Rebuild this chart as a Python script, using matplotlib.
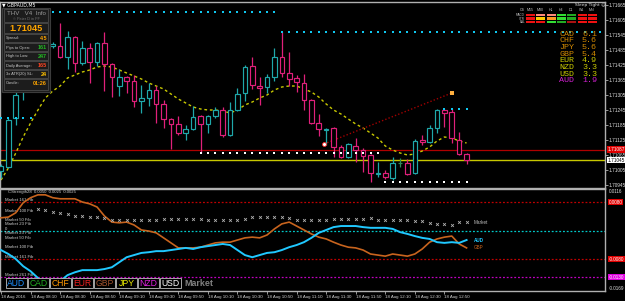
import matplotlib
matplotlib.use("Agg")
import matplotlib.pyplot as plt
import matplotlib.transforms as mtransforms
from matplotlib.patches import Rectangle
import numpy as np

W, H = 625, 301

# GBPAUD M5, 18 Aug 2016, bars from 07:50 to 13:05
opens = [1.71001, 1.71017, 1.71213, 1.71325, 1.71405, 1.71465, 1.71505, 1.71503, 1.71501, 1.71457,
         1.71537, 1.71433, 1.71493, 1.71437, 1.71513, 1.71429, 1.71341, 1.71377, 1.71361, 1.71281,
         1.71293, 1.71325, 1.71269, 1.71209, 1.71189, 1.71153, 1.71169, 1.71221, 1.71189, 1.71221,
         1.71245, 1.71145, 1.71245, 1.71313, 1.71421, 1.71341, 1.71337, 1.71377, 1.71457, 1.71393,
         1.71373, 1.71353, 1.71285, 1.71193, 1.71165, 1.71173, 1.71097, 1.71057, 1.71101, 1.71085,
         1.71065, 1.70989, 1.70993, 1.70973, 1.71033, 1.71033, 1.70993, 1.71123, 1.71117, 1.71173,
         1.71245, 1.71237, 1.71125, 1.71069]
highs = [1.71029, 1.71213, 1.71325, 1.71425, 1.71485, 1.71533, 1.71525, 1.71517, 1.71593, 1.71561,
         1.71541, 1.71521, 1.71513, 1.71517, 1.71557, 1.71433, 1.71409, 1.71381, 1.71385, 1.71345,
         1.71353, 1.71341, 1.71285, 1.71213, 1.71221, 1.71185, 1.71261, 1.71225, 1.71225, 1.71257,
         1.71257, 1.71277, 1.71333, 1.71425, 1.71457, 1.71377, 1.71389, 1.71493, 1.71557, 1.71477,
         1.71385, 1.71389, 1.71289, 1.71229, 1.71173, 1.71177, 1.71105, 1.71113, 1.71133, 1.71093,
         1.71069, 1.71037, 1.71005, 1.71057, 1.71053, 1.71049, 1.71129, 1.71145, 1.71185, 1.71249,
         1.71249, 1.71249, 1.71157, 1.71073]
lows = [1.70973, 1.71013, 1.71185, 1.71285, 1.71385, 1.71445, 1.71465, 1.71493, 1.71453, 1.71409,
        1.71397, 1.71425, 1.71353, 1.71421, 1.71321, 1.71297, 1.71301, 1.71313, 1.71257, 1.71233,
        1.71261, 1.71193, 1.71173, 1.71089, 1.71145, 1.71125, 1.71165, 1.71073, 1.71153, 1.71213,
        1.71137, 1.71141, 1.71241, 1.71281, 1.71329, 1.71265, 1.71313, 1.71361, 1.71377, 1.71341,
        1.71317, 1.71245, 1.71189, 1.71141, 1.71105, 1.71057, 1.71053, 1.71053, 1.71037, 1.70997,
        1.70957, 1.70977, 1.70969, 1.70965, 1.71017, 1.70985, 1.70989, 1.71105, 1.71113, 1.71153,
        1.71177, 1.71113, 1.71065, 1.71029]
closes = [1.71021, 1.71205, 1.71305, 1.71405, 1.71465, 1.71505, 1.71485, 1.71507, 1.71457, 1.71537,
          1.71433, 1.71493, 1.71437, 1.71513, 1.71429, 1.71377, 1.71377, 1.71361, 1.71281, 1.71293,
          1.71325, 1.71269, 1.71209, 1.71189, 1.71153, 1.71169, 1.71217, 1.71189, 1.71221, 1.71245,
          1.71145, 1.71245, 1.71309, 1.71417, 1.71345, 1.71333, 1.71377, 1.71457, 1.71393, 1.71369,
          1.71357, 1.71285, 1.71193, 1.71169, 1.71169, 1.71097, 1.71057, 1.71109, 1.71085, 1.71061,
          1.70993, 1.70993, 1.70977, 1.71033, 1.71033, 1.70989, 1.71121, 1.71119, 1.71173, 1.71245,
          1.71233, 1.71133, 1.71069, 1.71045]
ma_values = [1.70965, 1.71013, 1.71073, 1.71137, 1.71193, 1.71245, 1.71293, 1.71321, 1.71341, 1.71373,
             1.71385, 1.71397, 1.71405, 1.71417, 1.71421, 1.71417, 1.71405, 1.71393, 1.71381, 1.71369,
             1.71353, 1.71341, 1.71329, 1.71309, 1.71289, 1.71273, 1.71257, 1.71249, 1.71245, 1.71245,
             1.71241, 1.71233, 1.71245, 1.71265, 1.71277, 1.71293, 1.71305, 1.71325, 1.71337, 1.71341,
             1.71341, 1.71329, 1.71317, 1.71297, 1.71269, 1.71245, 1.71229, 1.71209, 1.71189, 1.71173,
             1.71153, 1.71133, 1.71101, 1.71085, 1.71073, 1.71065, 1.71069, 1.71081, 1.71097, 1.71121,
             1.71137, 1.71133, 1.71121, 1.71113]

# support / resistance dot rows: (price, first bar, last bar)
resistance_rows = [(1.71637, 7, 37), (1.71557, 38, 81), (1.71213, 0, 4), (1.71251, 60, 63)]
support_rows = [(1.71075, 27, 51), (1.70957, 52, 63)]
trend_line = [(43.7, 1.71109), (61.0, 1.71313)]
red_level = 1.71087
bid_price = 1.71045
price_ticks = [1.70945, 1.71005, 1.71065, 1.71125, 1.71185, 1.71245, 1.71305,
               1.71365, 1.71425, 1.71485, 1.71545, 1.71605, 1.71665]

time_bars = [0, 4, 8, 12, 16, 20, 24, 28, 32, 36, 40, 44, 48, 52, 56, 60]
time_labels = ["18 Aug 2016", "18 Aug 08:10", "18 Aug 08:30", "18 Aug 08:50", "18 Aug 09:10",
               "18 Aug 09:30", "18 Aug 09:50", "18 Aug 10:10", "18 Aug 10:30", "18 Aug 10:50",
               "18 Aug 11:10", "18 Aug 11:30", "18 Aug 11:50", "18 Aug 12:10", "18 Aug 12:30",
               "18 Aug 12:50"]

# CStrength28 window
gbp_strength = [0.0036, 0.0038, 0.0050, 0.0078, 0.0092, 0.0100, 0.0100, 0.0092, 0.0089, 0.0089,
                0.0089, 0.0080, 0.0075, 0.0066, 0.0041, 0.0024, 0.0022, 0.0024, 0.0016, 0.0002,
                -0.0001, -0.0006, -0.0020, -0.0034, -0.0048, -0.0048, -0.0048, -0.0046, -0.0040, -0.0034,
                -0.0032, -0.0032, -0.0026, -0.0020, -0.0018, -0.0020, -0.0012, 0.0005, 0.0019, 0.0024,
                0.0013, 0.0002, -0.0009, -0.0018, -0.0023, -0.0032, -0.0040, -0.0046, -0.0048, -0.0054,
                -0.0065, -0.0068, -0.0071, -0.0065, -0.0068, -0.0071, -0.0065, -0.0051, -0.0032, -0.0023,
                -0.0018, -0.0015, -0.0037, -0.0048]
aud_strength = [-0.0054, -0.0065, -0.0079, -0.0099, -0.0113, -0.0132, -0.0149, -0.0157, -0.0141, -0.0124,
                -0.0116, -0.0110, -0.0110, -0.0110, -0.0107, -0.0102, -0.0088, -0.0074, -0.0068, -0.0062,
                -0.0060, -0.0057, -0.0057, -0.0054, -0.0051, -0.0048, -0.0051, -0.0046, -0.0043, -0.0040,
                -0.0037, -0.0040, -0.0054, -0.0068, -0.0074, -0.0068, -0.0062, -0.0060, -0.0054, -0.0046,
                -0.0040, -0.0032, -0.0020, -0.0006, 0.0002, 0.0010, 0.0013, 0.0013, 0.0013, 0.0010,
                0.0008, 0.0008, 0.0008, 0.0005, -0.0004, -0.0009, -0.0015, -0.0020, -0.0023, -0.0032,
                -0.0034, -0.0032, -0.0034, -0.0026]
market_first_bar = 5
market_strength = [0.0061, 0.0058, 0.0052, 0.0050, 0.0047, 0.0041, 0.0041, 0.0038, 0.0038, 0.0036,
                   0.0030, 0.0030, 0.0030, 0.0030, 0.0030, 0.0030, 0.0030, 0.0033, 0.0033, 0.0033,
                   0.0033, 0.0033, 0.0033, 0.0030, 0.0030, 0.0030, 0.0030, 0.0030, 0.0033, 0.0038,
                   0.0038, 0.0038, 0.0038, 0.0038, 0.0036, 0.0030, 0.0030, 0.0030, 0.0030, 0.0030,
                   0.0033, 0.0033, 0.0033, 0.0033, 0.0033, 0.0036, 0.0030, 0.0030, 0.0030, 0.0030,
                   0.0030, 0.0027, 0.0027, 0.0022, 0.0019, 0.0019, 0.0016, 0.0024, 0.0024]
fib_names = ["161", "100", "50", "23", "0", "23", "50", "100", "161", "261"]
fib_levels = [0.0080, 0.0050, 0.0025, 0.00118, 0.0, -0.00118, -0.0025, -0.0050, -0.0080, -0.0130]
fib_lines = {0.0080: '#c00000', 0.0: '#00c8c8', -0.0080: '#c00000', -0.0130: '#c000c0'}
strength_top, strength_bottom = 0.0116, -0.0169

currencies = ["CAD", "CHF", "JPY", "GBP", "EUR", "NZD", "USD", "AUD"]
currency_scores = [6.1, 5.6, 5.6, 5.4, 4.9, 3.3, 3.3, 1.9]
currency_colors = ['#d08800', '#d08800', '#d08800', '#d08800', '#c8c800', '#c8c800', '#c8c800', '#d020d0']
strip_names = ["AUD", "CAD", "CHF", "EUR", "GBP", "JPY", "NZD", "USD"]
strip_colors = ['#1e90ff', '#22aa22', '#ff9900', '#ee2020', '#a0522d', '#f0f000', '#e020e0', '#ffffff']

info_rows = [("Spread:", "4.5", '#ffa500'), ("Pips to Open:", "161", '#22bb22'),
             ("High to Low:", "247", '#22bb22'), ("Daily Average:", "165", '#ff4422'),
             ("3x ATR(20) SL:", "24", '#ffc000'), ("Candle:", "01:26", '#ffa500')]
tf_names = ["M15", "M30", "H1", "H4", "D1", "W1", "MN"]
signal_rows = ["MACD", "STR", "BAL"]
signal_colors = [['#ee1111', '#ff8878', '#ff8878', '#33dd33', '#22aa22', '#ee1111', '#ee1111'],
                 ['#ee1111', '#ffcc00', '#ff9922', '#33dd33', '#22aa22', '#ee1111', '#ee1111'],
                 ['#ee1111', '#ee1111', '#33dd33', '#22aa22', '#aa1111', '#ee1111', '#ee1111']]

BULL, BEAR, DOJI = '#1fa8aa', '#e0207a', '#2e8b57'
GRID = '#b0b0b0'
FONT = 'Liberation Sans'
plt.rcParams['font.family'] = [FONT, 'DejaVu Sans']

fig = plt.figure(figsize=(W / 100, H / 100), dpi=100, facecolor='black')


def box(y0, y1):
    return [0, 1 - y1 / H, 605 / W, (y1 - y0) / H]


BAR_PX = 7.39
x_lo = -1 / BAR_PX
x_hi = 604 / BAR_PX

# ---------------- main price window ----------------
ax = fig.add_axes(box(2, 188), facecolor='black')
ax.set_xlim(x_lo, x_hi)
ax.set_ylim(1.70933, 1.71677)

bars = np.arange(len(opens))
o = np.array(opens)
c = np.array(closes)
cols = [BULL if cc > oo else BEAR if cc < oo else DOJI for oo, cc in zip(opens, closes)]

ax.plot(bars, ma_values, color='#c8c800', lw=1, dashes=(2, 2), zorder=2)
ax.axhline(red_level, color='#b00000', lw=0.9, zorder=1)
ax.axhline(bid_price, color='#c8c800', lw=1, zorder=1)

ax.vlines(bars, lows, highs, colors=cols, lw=0.9, zorder=3)
ax.bar(bars, np.maximum(np.abs(c - o), 0.00001), bottom=np.minimum(o, c), width=0.62,
       facecolor='black', edgecolor=cols, linewidth=0.85, zorder=4)

for price, b0, b1 in resistance_rows:
    xs = np.arange(b0, b1 + 1)
    ax.scatter(xs, [price] * len(xs), marker='s', s=4, color='#10c8f0', lw=0, zorder=5)
for price, b0, b1 in support_rows:
    xs = np.arange(b0, b1 + 1)
    ax.scatter(xs, [price] * len(xs), marker='s', s=4, color='#ff80c0', lw=0, zorder=5)
    ax.scatter(xs, [price] * len(xs), marker='s', s=0.8, color='white', lw=0, zorder=6)

(tx0, ty0), (tx1, ty1) = trend_line
ax.plot([tx0, tx1], [ty0, ty1], color='#a00000', lw=1, dashes=(1, 1.5), zorder=2)
ax.scatter([tx0], [ty0], s=8, color='white', edgecolor='#ff2020', lw=0.6, zorder=6)
ax.scatter([tx1], [ty1], marker='s', s=6, color='#ffb040', lw=0, zorder=6)

ax.yaxis.tick_right()
ax.set_yticks(price_ticks)
ax.set_yticklabels([f"{p:.5f}" for p in price_ticks])
ax.tick_params(axis='y', colors=GRID, labelcolor='#e0e0e0', labelsize=3.4, length=2, width=0.6, pad=0.8)
ax.set_xticks([])
for s in ax.spines.values():
    s.set_color(GRID)
    s.set_linewidth(1)

yblend = mtransforms.blended_transform_factory(ax.transAxes, ax.transData)
ax.text(1.005, red_level, f"{red_level:.5f}", transform=yblend, color='white', fontsize=3.4,
        va='center', ha='left', clip_on=False,
        bbox=dict(boxstyle='square,pad=0.12', fc='#e00000', ec='none'))
ax.text(1.005, bid_price, f"{bid_price:.5f}", transform=yblend, color='black', fontsize=3.4,
        va='center', ha='left', clip_on=False,
        bbox=dict(boxstyle='square,pad=0.12', fc='white', ec='none'))

# ---------------- CStrength28 window ----------------
ax2 = fig.add_axes(box(189, 291), facecolor='black')
ax2.set_xlim(x_lo, x_hi)
ax2.set_ylim(-0.01682, 0.01163)

for lvl, col in fib_lines.items():
    ax2.axhline(lvl, color=col, lw=0.9, dashes=(1.5, 1.5), zorder=1)
for name, lvl in zip(fib_names, fib_levels):
    txt = "0" if name == "0" else f"Market {name} Fib"
    ax2.text(0.5, lvl, txt, color='#d0d0d0', fontsize=3.1, va='bottom', ha='left')

ax2.plot(bars, gbp_strength, color='#c8641e', lw=1.2, zorder=3)
ax2.plot(bars, aud_strength, color='#20c8ff', lw=1.4, zorder=3)
mb = np.arange(market_first_bar, market_first_bar + len(market_strength))
ax2.scatter(mb, market_strength, marker='x', s=4, color='#b0b0b0', lw=0.6, zorder=4)

ax2.text(bars[-1] + 1, market_strength[-1], "Market", color='#c0c0c0', fontsize=3.3,
         va='center', ha='left')
ax2.text(bars[-1] + 1, aud_strength[-1], "AUD", color='#20c8ff', fontsize=3.3,
         va='center', ha='left', weight='bold')
ax2.text(bars[-1] + 1, gbp_strength[-1], "GBP", color='#c8641e', fontsize=3.3,
         va='center', ha='left')

ax2.set_yticks([])
ax2.set_xticks(time_bars)
ax2.set_xticklabels(time_labels)
for lab in ax2.get_xticklabels():
    lab.set_ha('left')
ax2.tick_params(axis='x', colors=GRID, labelcolor='#d0d0d0', labelsize=3.2, length=2, width=0.6, pad=1)
for s in ax2.spines.values():
    s.set_color(GRID)
    s.set_linewidth(1)

yb2 = mtransforms.blended_transform_factory(ax2.transAxes, ax2.transData)
ax2.text(1.006, strength_top, f"{strength_top:.4f}", transform=yb2, color='#e0e0e0', fontsize=3.3,
         va='top', ha='left', clip_on=False)
ax2.text(1.006, strength_bottom + 0.0002, f"{strength_bottom:.4f}", transform=yb2, color='#e0e0e0',
         fontsize=3.3, va='bottom', ha='left', clip_on=False)
for lvl, fc in [(0.0080, '#e00000'), (-0.0080, '#e00000'), (-0.0130, '#e000e0')]:
    ax2.text(1.006, lvl, f"{lvl:.4f}", transform=yb2, color='white', fontsize=3.3, va='center',
             ha='left', clip_on=False,
             bbox=dict(boxstyle='square,pad=0.12', fc=fc, ec='none'))
ax2.text(1, 0.0108, "CStrength28  0.0050  0.0025  0.0025", color='#d0d0d0', fontsize=3.1,
         va='center', ha='left')

# ---------------- overlay (panels drawn in pixel space) ----------------
ov = fig.add_axes([0, 0, 1, 1], zorder=10)
ov.set_xlim(0, W)
ov.set_ylim(H, 0)
ov.axis('off')

ov.text(2, 4.5, "\u25bc GBPAUD,M5", color='white', fontsize=3.4, family='DejaVu Sans', va='center')

# info panel
ov.add_patch(Rectangle((2, 8), 48, 84, fc='#1c1c1c', ec='#3c3c3c', lw=0.8))
for y0, y1 in [(9, 22), (23, 33), (34, 42), (43, 51), (52, 60), (61, 69), (70, 78), (79, 90)]:
    ov.add_patch(Rectangle((4, y0), 44, y1 - y0, fc='none', ec='#4a4a4a', lw=0.6))
ov.text(26, 13.5, "THV   V4  Info", color='#9a9a9a', fontsize=4.4, ha='center', va='center')
ov.text(26, 19, "\u00a9 Peter D in FF", color='#707070', fontsize=2.8, ha='center', va='center')
ov.text(26, 28.5, f"{bid_price:.5f}", color='#ffa500', fontsize=6.6, weight='bold',
        ha='center', va='center')
for k, (lab, val, col) in enumerate(info_rows):
    yy = 38.5 + 9 * k
    ov.text(5.5, yy, lab, color='#c8c8c8', fontsize=2.9, va='center')
    ov.text(47, yy, val, color=col, fontsize=3.9, va='center', ha='right', weight='bold')

# signal matrix
ov.text(575, 5, "Sleep Tight \u263a", color='#e0e0e0', fontsize=3.2, family='DejaVu Sans', va='center')
ov.text(522, 10, "CS", color='#c0c0c0', fontsize=2.6, va='center', ha='center')
for j, tf in enumerate(tf_names):
    ov.text(530 + 10.3 * j, 10, tf, color='#c0c0c0', fontsize=2.6, va='center', ha='center')
for r, (name, row) in enumerate(zip(signal_rows, signal_colors)):
    yy = 15 + 3.6 * r
    ov.text(525, yy, name, color='#c0c0c0', fontsize=2.2, va='center', ha='right')
    for j, col in enumerate(row):
        ov.add_patch(Rectangle((526 + 10.3 * j, yy - 1.3), 9, 2.6, fc=col, ec='none'))

# currency strength list
for k, (cur, sc, col) in enumerate(zip(currencies, currency_scores, currency_colors)):
    yy = 34 + 6.7 * k
    ov.text(559, yy, cur, color=col, fontsize=6, family='Liberation Mono', va='center')
    ov.text(582, yy, f"{sc:.1f}", color=col, fontsize=6, family='Liberation Mono', va='center')

# currency buttons in the strength window
for k, (cur, col) in enumerate(zip(strip_names, strip_colors)):
    x0 = 6 + 22 * k
    ov.add_patch(Rectangle((x0, 278), 21, 10, fc='black', ec='#c0c0c0', lw=0.6))
    ov.text(x0 + 10.5, 283.3, cur, color=col, fontsize=6.2, ha='center', va='center')
ov.text(184, 283.5, "Market", color='#808080', fontsize=6.4, weight='bold', va='center')

fig.savefig("out.png", dpi=100, facecolor='black')
